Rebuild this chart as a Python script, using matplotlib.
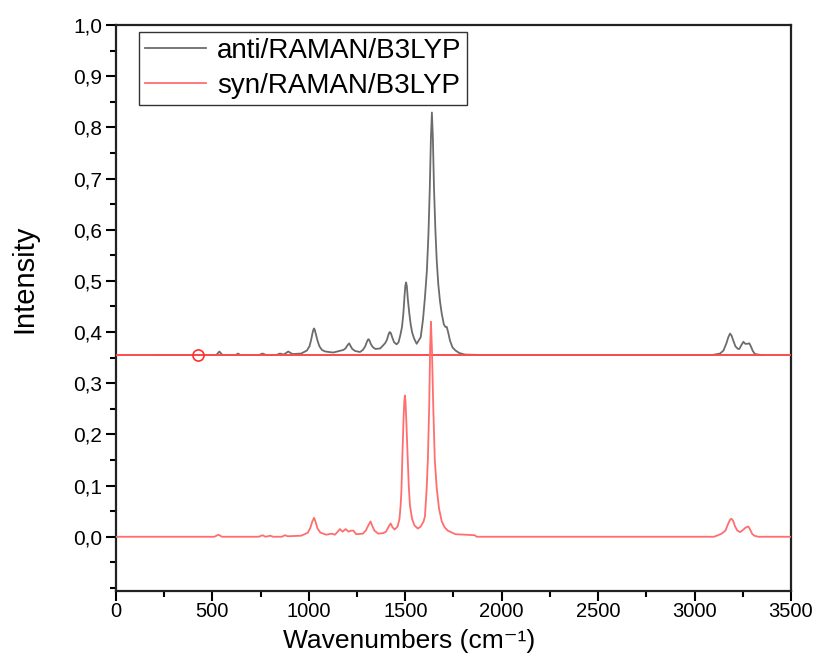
import matplotlib
matplotlib.use("Agg")
import matplotlib.pyplot as plt
from matplotlib.ticker import MultipleLocator, FuncFormatter

plt.rcParams['font.family'] = ['Liberation Sans', 'DejaVu Sans']
plt.rcParams['mathtext.default'] = 'regular'

# ---- data ----
anti_label = "anti/RAMAN/B3LYP"
syn_label = "syn/RAMAN/B3LYP"

anti_x = [200, 520, 536, 552, 620, 633, 645, 740, 760, 780, 830, 850, 870, 893, 915,
          960, 990, 1003, 1012, 1019, 1024, 1027, 1031, 1037, 1045, 1055, 1068, 1085,
          1126, 1179, 1190, 1200, 1209, 1216, 1225, 1240, 1265, 1280, 1292, 1300, 1306,
          1310, 1315, 1322, 1333, 1345, 1370, 1395, 1405, 1412, 1417, 1421, 1426, 1432,
          1442, 1455, 1465, 1475, 1483, 1490, 1496, 1500, 1504, 1508, 1513, 1521, 1528,
          1535, 1545, 1559, 1580, 1592, 1602, 1612, 1620, 1627, 1633, 1638, 1643, 1649,
          1656, 1663, 1671, 1680, 1689, 1700, 1708, 1715, 1722, 1732, 1745, 1760, 1780,
          1810, 1910,
          3089, 3132, 3150, 3165, 3175, 3184, 3192, 3200, 3212, 3225, 3232, 3242, 3253,
          3263, 3273, 3284, 3292, 3302, 3313, 3348]
anti_y = [0.355, 0.355, 0.362, 0.355, 0.355, 0.358, 0.355, 0.355, 0.358, 0.355, 0.355,
          0.358, 0.356, 0.362, 0.357, 0.358, 0.364, 0.372, 0.385, 0.398, 0.405, 0.407,
          0.404, 0.395, 0.383, 0.372, 0.365, 0.362, 0.360, 0.365, 0.368, 0.374, 0.378,
          0.373, 0.367, 0.363, 0.361, 0.365, 0.372, 0.380, 0.385, 0.386, 0.383, 0.376,
          0.370, 0.367, 0.368, 0.378, 0.385, 0.394, 0.399, 0.400, 0.397, 0.390, 0.380,
          0.376, 0.380, 0.395, 0.410, 0.436, 0.470, 0.490, 0.497, 0.490, 0.465, 0.436,
          0.415, 0.400, 0.388, 0.377, 0.390, 0.425, 0.468, 0.520, 0.590, 0.680, 0.780,
          0.829, 0.780, 0.680, 0.600, 0.540, 0.494, 0.460, 0.436, 0.415, 0.410, 0.410,
          0.400, 0.383, 0.370, 0.364, 0.359, 0.356, 0.355,
          0.355, 0.358, 0.364, 0.378, 0.390, 0.397, 0.393, 0.384, 0.372, 0.367, 0.367,
          0.374, 0.381, 0.377, 0.377, 0.378, 0.372, 0.363, 0.357, 0.355]

syn_x = [0, 510, 531, 550, 740, 760, 775, 800, 815, 860, 876, 890, 960, 995, 1008, 1018,
         1027, 1034, 1045, 1060, 1090, 1118, 1135, 1150, 1161, 1175, 1191, 1205, 1220,
         1231, 1245, 1280, 1295, 1308, 1320, 1328, 1340, 1360, 1385, 1400, 1414, 1424,
         1433, 1445, 1460, 1470, 1476, 1480, 1485, 1491, 1495, 1498, 1501, 1505, 1512,
         1518, 1524, 1535, 1548, 1565, 1580, 1595, 1602, 1611, 1617, 1624, 1629, 1633,
         1638, 1645, 1653, 1663, 1675, 1689, 1705, 1720, 1760, 1860, 1870,
         3100, 3115, 3140, 3160, 3175, 3185, 3192, 3200, 3210, 3222, 3236, 3250, 3265,
         3279, 3288, 3298, 3310, 3330, 3500]
syn_y = [0.0, 0.0, 0.004, 0.0, 0.0, 0.003, 0.0, 0.002, 0.0, 0.0, 0.003, 0.001, 0.002,
         0.008, 0.018, 0.030, 0.037, 0.030, 0.016, 0.008, 0.004, 0.006, 0.004, 0.010,
         0.015, 0.010, 0.015, 0.010, 0.012, 0.012, 0.005, 0.006, 0.012, 0.022, 0.030,
         0.022, 0.012, 0.006, 0.007, 0.010, 0.020, 0.026, 0.019, 0.014, 0.020, 0.035,
         0.062, 0.090, 0.159, 0.230, 0.265, 0.276, 0.265, 0.230, 0.159, 0.100, 0.062,
         0.035, 0.022, 0.016, 0.020, 0.030, 0.040, 0.095, 0.150, 0.255, 0.370, 0.420,
         0.370, 0.255, 0.150, 0.095, 0.055, 0.030, 0.018, 0.012, 0.005, 0.003, 0.0,
         0.0, 0.002, 0.006, 0.012, 0.026, 0.034, 0.035, 0.031, 0.020, 0.012, 0.009,
         0.013, 0.018, 0.020, 0.014, 0.006, 0.002, 0.0, 0.0]

ref_level = 0.355          # red horizontal reference line
marker_x = [425]
marker_y = [0.355]

x_ticks = [0, 500, 1000, 1500, 2000, 2500, 3000, 3500]
y_ticks = [0.0, 0.1, 0.2, 0.3, 0.4, 0.5, 0.6, 0.7, 0.8, 0.9, 1.0]

# ---- figure ----
fig = plt.figure(figsize=(8.18, 6.55), dpi=100)
ax_bottom = 1 - 591 / 655
ax_top = 1 - 25 / 655
ax = fig.add_axes([0.1418, ax_bottom, 0.967 - 0.1418, ax_top - ax_bottom])

ax.plot(anti_x, anti_y, color='#5c5c5c', lw=1.3, alpha=0.9, label=anti_label, zorder=2)
ax.axhline(ref_level, color='#ff4a4a', lw=1.4, zorder=3)
ax.plot(syn_x, syn_y, color='#ff6e6e', lw=1.3, label=syn_label, zorder=4)
ax.plot(marker_x, marker_y, linestyle='none', marker='o', markersize=8,
        markerfacecolor='none', markeredgecolor='#ff3030', markeredgewidth=1.2, zorder=5)

ax.set_xlim(0, 3500)
ax.set_ylim(-0.106, 1.0)
ax.set_xticks(x_ticks)
ax.set_yticks(y_ticks)
ax.xaxis.set_minor_locator(MultipleLocator(250))
ax.yaxis.set_minor_locator(MultipleLocator(0.05))
ax.yaxis.set_major_formatter(FuncFormatter(lambda v, p: f"{v:.1f}".replace('.', ',')))
ax.xaxis.set_major_formatter(FuncFormatter(lambda v, p: f"{int(round(v))}"))

ax.tick_params(which='major', direction='out', length=7, width=1.5, labelsize=15,
               top=False, right=False)
ax.tick_params(axis='x', which='major', pad=1, labelsize=14.5)
ax.tick_params(axis='y', which='major', pad=3)
ax.tick_params(which='minor', direction='out', length=4, width=1.5, top=False, right=False)
for s in ax.spines.values():
    s.set_linewidth(1.6)
    s.set_color('#222222')

ax.set_xlabel("Wavenumbers (cm\u207b\u00b9)", fontsize=19)
ax.set_ylabel("Intensity", fontsize=21)
ax.xaxis.set_label_coords(0.5, 2 / 655, transform=fig.transFigure)
ax.xaxis.label.set_va('bottom')
ax.yaxis.set_label_coords(-0.135, 0.551)
ax.yaxis.label.set_va('center')

leg = ax.legend(loc='upper left', bbox_to_anchor=(0.026, 0.997), fontsize=20,
                frameon=True, fancybox=False, edgecolor='#333333', framealpha=1,
                handlelength=2.2, borderpad=0.2, labelspacing=0.33, handletextpad=0.4,
                borderaxespad=0.2)
leg.get_frame().set_linewidth(1.0)

fig.savefig("out.png", dpi=100)
